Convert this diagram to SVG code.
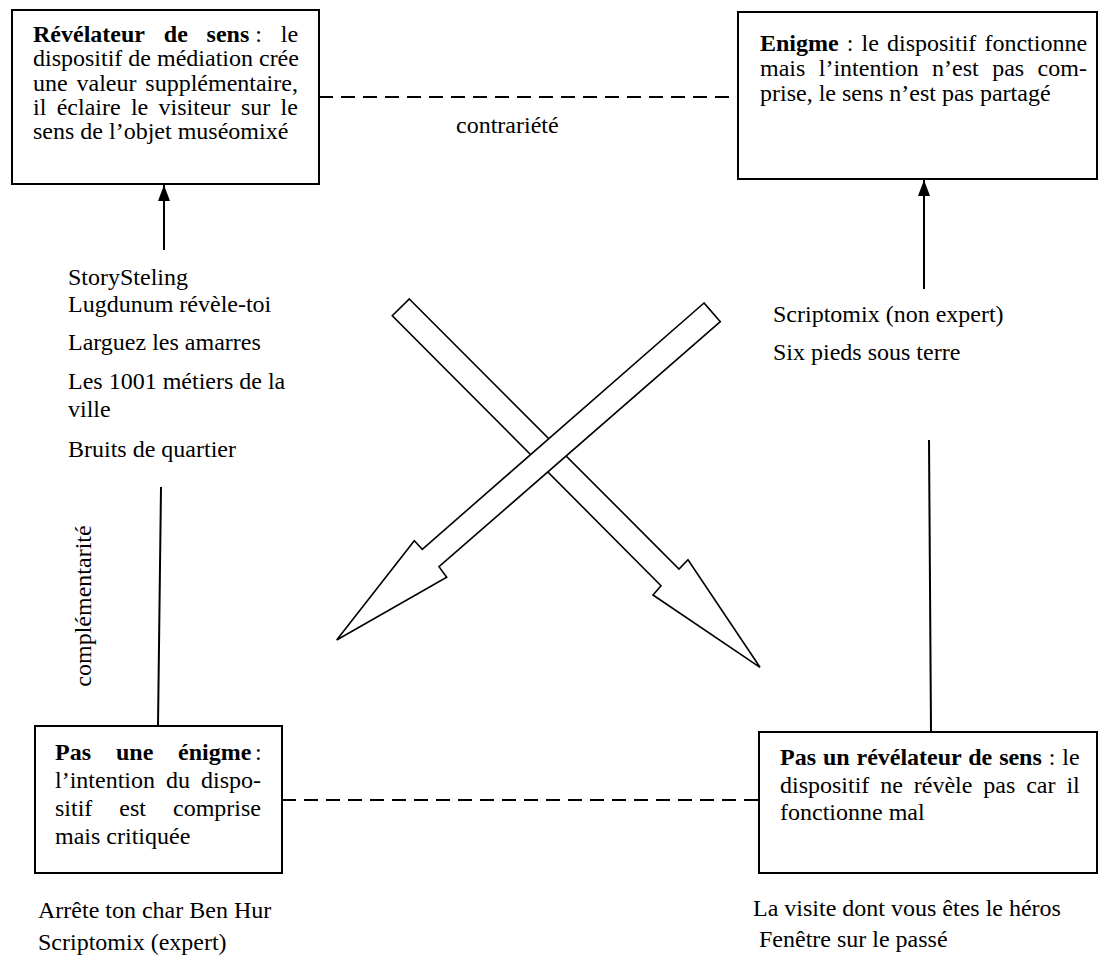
<svg xmlns="http://www.w3.org/2000/svg" width="1098" height="966" viewBox="0 0 1098 966">
<style>
text{font-family:"Liberation Serif","Times New Roman",serif;font-size:24px;fill:#000}
.b{font-weight:bold}
.box{fill:#fff;stroke:#000;stroke-width:2}
.ln{stroke:#000;stroke-width:2;fill:none}
.dash{stroke:#000;stroke-width:2;fill:none;stroke-dasharray:14 8}
.big{fill:#fff;stroke:#000;stroke-width:1.6;stroke-linejoin:miter}
</style>
<defs>
<marker id="ah" viewBox="0 0 16 12" refX="16" refY="6" markerWidth="16" markerHeight="12" markerUnits="userSpaceOnUse" orient="auto">
<path d="M0,0 L16,6 L0,12 z" fill="#000"/>
</marker>
</defs>
<g id="connectors">
<line class="dash" x1="319" y1="97" x2="738" y2="97"/>
<line class="dash" x1="282" y1="800" x2="759" y2="800"/>
<line class="ln" x1="164" y1="250" x2="164" y2="185" marker-end="url(#ah)"/>
<line class="ln" x1="924" y1="289" x2="924" y2="180" marker-end="url(#ah)"/>
<line class="ln" x1="161" y1="487" x2="158" y2="726"/>
<line class="ln" x1="929" y1="440" x2="931" y2="732"/>
<polygon class="big" points="409.3,299 679,569 688,559.7 760,667.3 653,595 661,585.7 392.3,315.7"/>
<polygon class="big" points="704,303 422.3,549.3 414.3,540.7 336.7,640 446.7,577.3 439,566.7 720.3,321.7"/>
<text x="456" y="133">contrariété</text>
<text transform="translate(91,606) rotate(-90)" text-anchor="middle">complémentarité</text>
</g>
<g id="revelateur">
<rect class="box" x="12" y="10" width="307" height="174"/>
<text y="42"><tspan class="b" x="33">Révélateur</tspan><tspan class="b" x="163.8">de</tspan><tspan class="b" x="206.6">sens</tspan><tspan x="255.3">:</tspan><tspan x="280.8">le</tspan></text>
<text x="33" y="66.3">dispositif de médiation crée</text>
<text x="33" y="90.6" style="word-spacing:2.85px">une valeur supplémentaire,</text>
<text x="33" y="114.9" style="word-spacing:4.34px">il éclaire le visiteur sur le</text>
<text x="33" y="139.2">sens de l’objet muséomixé</text>
</g>
<g id="enigme">
<rect class="box" x="738" y="12" width="359" height="167"/>
<text x="760" y="51" style="word-spacing:2.1px"><tspan class="b">Enigme</tspan> : le dispositif fonctionne</text>
<text x="760" y="76" style="word-spacing:7.4px">mais l’intention n’est pas com-</text>
<text x="760" y="101">prise, le sens n’est pas partagé</text>
</g>
<g id="pas-enigme">
<rect class="box" x="35" y="726" width="247" height="147"/>
<text y="760"><tspan class="b" x="55">Pas</tspan><tspan class="b" x="116">une</tspan><tspan class="b" x="178">énigme</tspan><tspan x="255">:</tspan></text>
<text x="55" y="788" style="word-spacing:5px">l’intention du dispo-</text>
<text x="55" y="816" style="word-spacing:21px">sitif est comprise</text>
<text x="55" y="844">mais critiquée</text>
</g>
<g id="pas-revelateur">
<rect class="box" x="759" y="732" width="338" height="141"/>
<text x="780" y="765" style="word-spacing:0.9px"><tspan class="b">Pas un révélateur de sens</tspan> : le</text>
<text x="780" y="792.5" style="word-spacing:4.9px">dispositif ne révèle pas car il</text>
<text x="780" y="820">fonctionne mal</text>
</g>
<g id="list-revelateur">
<text x="68" y="285">StorySteling</text>
<text x="68" y="312">Lugdunum révèle-toi</text>
<text x="68" y="350">Larguez les amarres</text>
<text x="68" y="389">Les 1001 métiers de la</text>
<text x="68" y="417">ville</text>
<text x="68" y="457">Bruits de quartier</text>
</g>
<g id="list-enigme">
<text x="773" y="322">Scriptomix (non expert)</text>
<text x="773" y="360">Six pieds sous terre</text>
</g>
<g id="list-pas-enigme">
<text x="38" y="918">Arrête ton char Ben Hur</text>
<text x="38" y="950">Scriptomix (expert)</text>
</g>
<g id="list-pas-revelateur">
<text x="753" y="916">La visite dont vous êtes le héros</text>
<text x="759" y="947">Fenêtre sur le passé</text>
</g>
</svg>
